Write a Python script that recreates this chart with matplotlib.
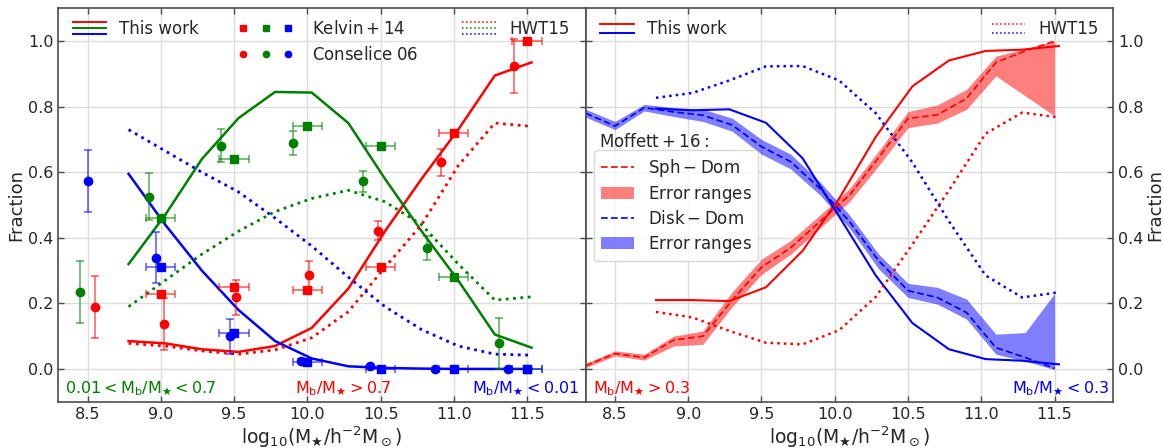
import numpy as np
import matplotlib.pyplot as plt
from matplotlib.lines import Line2D
from matplotlib.patches import Patch
from matplotlib.legend_handler import HandlerBase, HandlerTuple

plt.rcParams['font.family'] = 'DejaVu Sans'
plt.rcParams['mathtext.default'] = 'regular'
plt.rcParams['text.color'] = '#262626'
plt.rcParams['axes.labelcolor'] = '#262626'
plt.rcParams['xtick.color'] = '#262626'
plt.rcParams['ytick.color'] = '#262626'

# stellar mass bins (this work / HWT15)
mass = [8.78, 9.03, 9.28, 9.53, 9.78, 10.03, 10.28, 10.53, 10.78, 11.03, 11.28, 11.53]

# left panel: this work
tw_red = [0.085, 0.078, 0.060, 0.052, 0.070, 0.125, 0.245, 0.420, 0.580, 0.730, 0.895, 0.935]
tw_green = [0.320, 0.470, 0.640, 0.765, 0.845, 0.843, 0.750, 0.580, 0.420, 0.270, 0.105, 0.065]
tw_blue = [0.595, 0.440, 0.300, 0.180, 0.085, 0.032, 0.008, 0.003, 0.001, 0.000, 0.000, 0.000]
# left panel: HWT15
hwt_red = [0.078, 0.070, 0.055, 0.045, 0.058, 0.095, 0.175, 0.310, 0.440, 0.620, 0.750, 0.740]
hwt_green = [0.190, 0.270, 0.350, 0.420, 0.480, 0.520, 0.545, 0.510, 0.440, 0.320, 0.210, 0.220]
hwt_blue = [0.730, 0.665, 0.600, 0.540, 0.460, 0.375, 0.280, 0.190, 0.120, 0.070, 0.045, 0.042]

# Kelvin+14
kel_x = [9.0, 9.5, 10.0, 10.5, 11.0, 11.5]
kel_red = [0.23, 0.25, 0.24, 0.31, 0.72, 1.00]
kel_green = [0.46, 0.64, 0.74, 0.68, 0.28, 0.00]
kel_blue = [0.31, 0.11, 0.02, 0.00, 0.00, 0.00]

# Conselice 06
con_gx = [8.45, 8.92, 9.41, 9.90, 10.38, 10.82, 11.31]
con_gy = [0.235, 0.526, 0.681, 0.690, 0.572, 0.368, 0.078]
con_ge = [0.094, 0.072, 0.050, 0.037, 0.031, 0.037, 0.078]
con_bx = [8.50, 8.97, 9.47, 9.96, 10.43, 10.87, 11.37]
con_by = [0.574, 0.339, 0.099, 0.023, 0.009, 0.000, 0.000]
con_be = [0.095, 0.078, 0.053, 0.006, 0.004, 0.000, 0.000]
con_rx = [8.55, 9.02, 9.51, 10.01, 10.48, 10.91, 11.41]
con_ry = [0.189, 0.137, 0.219, 0.288, 0.422, 0.630, 0.923]
con_re = [0.094, 0.079, 0.053, 0.041, 0.030, 0.040, 0.082]

# right panel: this work / HWT15
tw2_red = [0.210, 0.210, 0.207, 0.249, 0.360, 0.520, 0.708, 0.862, 0.941, 0.970, 0.974, 0.985]
tw2_blue = [0.794, 0.789, 0.792, 0.751, 0.643, 0.465, 0.285, 0.140, 0.060, 0.030, 0.025, 0.014]
hwt2_red = [0.174, 0.157, 0.116, 0.080, 0.075, 0.118, 0.220, 0.380, 0.545, 0.718, 0.782, 0.767]
hwt2_blue = [0.827, 0.842, 0.880, 0.923, 0.924, 0.880, 0.780, 0.630, 0.450, 0.285, 0.218, 0.234]

# Moffett+16
mof_x = [8.3, 8.5, 8.7, 8.9, 9.1, 9.3, 9.5, 9.7, 9.9, 10.1, 10.3, 10.5, 10.7, 10.9, 11.1, 11.3, 11.5]
sph = [0.010, 0.047, 0.035, 0.088, 0.100, 0.210, 0.310, 0.370, 0.450, 0.530, 0.645, 0.764, 0.775, 0.825, 0.935, 0.970, 1.000]
sph_lo = [0.004, 0.040, 0.027, 0.070, 0.075, 0.190, 0.288, 0.350, 0.430, 0.510, 0.620, 0.736, 0.750, 0.792, 0.894, 0.833, 0.772]
sph_hi = [0.017, 0.055, 0.045, 0.100, 0.116, 0.235, 0.335, 0.392, 0.470, 0.550, 0.665, 0.785, 0.805, 0.853, 0.954, 0.977, 1.000]
disk = [0.780, 0.741, 0.797, 0.784, 0.774, 0.744, 0.678, 0.632, 0.550, 0.450, 0.330, 0.239, 0.218, 0.172, 0.065, 0.035, 0.002]
disk_lo = [0.768, 0.730, 0.787, 0.770, 0.755, 0.725, 0.655, 0.610, 0.530, 0.430, 0.305, 0.218, 0.198, 0.152, 0.045, 0.024, -0.002]
disk_hi = [0.792, 0.755, 0.807, 0.797, 0.792, 0.765, 0.700, 0.655, 0.570, 0.470, 0.350, 0.261, 0.249, 0.213, 0.106, 0.111, 0.230]

MSTAR = r'M_\bigstar'


class Stack:
    def __init__(self, lines, gap, lw):
        self.lines = lines
        self.gap = gap
        self.lw = lw


class HandlerStack(HandlerBase):
    def create_artists(self, legend, orig_handle, xdescent, ydescent,
                       width, height, fontsize, trans):
        n = len(orig_handle.lines)
        yc = height / 2.0 - ydescent
        arts = []
        for i, h in enumerate(orig_handle.lines):
            y = yc + ((n - 1) / 2.0 - i) * orig_handle.gap
            l = Line2D([-xdescent, width - xdescent], [y, y], color=h.get_color(),
                       ls=h.get_linestyle(), lw=orig_handle.lw)
            l.set_transform(trans)
            arts.append(l)
        return arts


def style(ax):
    ax.set_xlim(8.3, 11.9)
    ax.set_ylim(-0.1, 1.1)
    ax.set_xticks(np.arange(8.5, 11.6, 0.5))
    ax.set_yticks(np.arange(0, 1.01, 0.2))
    ax.xaxis.set_major_formatter(plt.FormatStrFormatter('%.1f'))
    ax.yaxis.set_major_formatter(plt.FormatStrFormatter('%.1f'))
    ax.grid(True, color='#dcdcdc', lw=1)
    ax.set_axisbelow(True)
    for s in ax.spines.values():
        s.set_color('#4d4d4d')
        s.set_linewidth(1.2)
    ax.tick_params(direction='in', top=True, right=True, left=True, bottom=True,
                   length=4, width=1, color='#4d4d4d', labelsize=11.5)
    ax.set_xlabel(r'$\rm log_{10}(%s/h^{-2}M_\odot)$' % MSTAR, fontsize=13.5, labelpad=2)
    ax.set_ylabel('Fraction', fontsize=13, labelpad=2)


def ebar(ax, x, y, xerr, yerr, fmt, c):
    _, caps, bars = ax.errorbar(x, y, xerr=xerr, yerr=yerr, fmt=fmt, color=c, ms=6,
                                capsize=3, elinewidth=1.2, capthick=1.2, zorder=4)
    for a in list(caps) + list(bars):
        a.set_alpha(0.6)


fig = plt.figure(figsize=(11.63, 4.48), dpi=100)
ax1 = fig.add_axes([0.0501, 0.1033, 0.4535, 0.8781])
ax2 = fig.add_axes([0.5036, 0.1033, 0.4535, 0.8781])

# ---- left panel
lr, = ax1.plot(mass, tw_red, color='red', lw=1.8)
lg, = ax1.plot(mass, tw_green, color='green', lw=1.8)
lb, = ax1.plot(mass, tw_blue, color='blue', lw=1.8)
dr, = ax1.plot(mass, hwt_red, color='red', ls=':', lw=2)
dg, = ax1.plot(mass, hwt_green, color='green', ls=':', lw=2)
db, = ax1.plot(mass, hwt_blue, color='blue', ls=':', lw=2)

kx = np.array(kel_x)
ebar(ax1, kx, kel_green, 0.1, 0.008, 's', 'green')
ebar(ax1, kx, kel_red, 0.1, 0.008, 's', 'red')
ebar(ax1, kx, kel_blue, 0.1, 0.004, 's', 'blue')
ebar(ax1, con_gx, con_gy, None, con_ge, 'o', 'green')
ebar(ax1, con_rx, con_ry, None, con_re, 'o', 'red')
ebar(ax1, con_bx, con_by, None, con_be, 'o', 'blue')

style(ax1)

ax1.text(0.013, 0.033, r'$0.01<\rm M_b/%s<0.7$' % MSTAR, color='green', fontsize=11.5,
         transform=ax1.transAxes, ha='left', va='center')
ax1.text(0.54, 0.033, r'$\rm M_b/%s>0.7$' % MSTAR, color='red', fontsize=11.5,
         transform=ax1.transAxes, ha='center', va='center')
ax1.text(0.988, 0.033, r'$\rm M_b/%s<0.01$' % MSTAR, color='blue', fontsize=11.5,
         transform=ax1.transAxes, ha='right', va='center')

hmap = {Stack: HandlerStack()}
leg1 = ax1.legend([Stack([lr, lg, lb], 4.3, 1.4)], ['This work'], loc='upper left',
                  bbox_to_anchor=(0.027, 0.97), borderaxespad=0, borderpad=0,
                  frameon=False, fontsize=12, handler_map=hmap)
ax1.add_artist(leg1)
mk = lambda m, c: Line2D([], [], marker=m, ls='none', color=c, ms=4.5)
leg2 = ax1.legend([(mk('s', 'red'), mk('s', 'green'), mk('s', 'blue')),
                   (mk('o', 'red'), mk('o', 'green'), mk('o', 'blue'))],
                  [r'$\rm Kelvin+14$', r'$\rm Conselice\;06$'], loc='upper left',
                  bbox_to_anchor=(0.33, 0.97), borderaxespad=0, borderpad=0,
                  frameon=False, fontsize=12, handlelength=4.0, labelspacing=0.45,
                  handler_map={tuple: HandlerTuple(ndivide=None)})
ax1.add_artist(leg2)
ax1.legend([Stack([dr, dg, db], 4.3, 1.1)], ['HWT15'], loc='upper left',
           bbox_to_anchor=(0.766, 0.97), borderaxespad=0, borderpad=0,
           frameon=False, fontsize=12, handler_map=hmap)

# ---- right panel
ax2.fill_between(mof_x, sph_lo, sph_hi, color='red', alpha=0.5, lw=0)
ax2.fill_between(mof_x, disk_lo, disk_hi, color='blue', alpha=0.5, lw=0)
ms_, = ax2.plot(mof_x, sph, color='red', ls=(0, (4, 2)), lw=1.2)
md_, = ax2.plot(mof_x, disk, color='blue', ls=(0, (4, 2)), lw=1.2)
r2, = ax2.plot(mass, tw2_red, color='red', lw=1.5)
b2, = ax2.plot(mass, tw2_blue, color='blue', lw=1.5)
r2d, = ax2.plot(mass, hwt2_red, color='red', ls=':', lw=1.8)
b2d, = ax2.plot(mass, hwt2_blue, color='blue', ls=':', lw=1.8)

style(ax2)
ax2.tick_params(labelleft=False, labelright=True)
ax2.yaxis.set_label_position('right')

ax2.text(0.014, 0.033, r'$\rm M_b/%s>0.3$' % MSTAR, color='red', fontsize=11.5,
         transform=ax2.transAxes, ha='left', va='center')
ax2.text(0.992, 0.033, r'$\rm M_b/%s<0.3$' % MSTAR, color='blue', fontsize=11.5,
         transform=ax2.transAxes, ha='right', va='center')

l3 = ax2.legend([Stack([r2, b2], 6.3, 1.4)], ['This work'], loc='upper left',
                bbox_to_anchor=(0.028, 0.97), borderaxespad=0, borderpad=0,
                frameon=False, fontsize=12, handler_map=hmap)
ax2.add_artist(l3)
l4 = ax2.legend([Stack([r2d, b2d], 6.3, 1.1)], ['HWT15'], loc='upper left',
                bbox_to_anchor=(0.77, 0.97), borderaxespad=0, borderpad=0,
                frameon=False, fontsize=12, handler_map=hmap)
ax2.add_artist(l4)
ax2.text(0.026, 0.66, r'$\rm Moffett+16:$', fontsize=12, transform=ax2.transAxes,
         ha='left', va='center')
ax2.legend([ms_, Patch(color='red', alpha=0.5, lw=0), md_, Patch(color='blue', alpha=0.5, lw=0)],
           [r'$\rm Sph-Dom$', r'$\rm Error\;ranges$', r'$\rm Disk-Dom$', r'$\rm Error\;ranges$'],
           loc='upper left', bbox_to_anchor=(0.0165, 0.64), borderaxespad=0,
           fontsize=12, labelspacing=0.32, framealpha=0.8, edgecolor='#d0d0d0')

fig.savefig('out.png', dpi=100)
